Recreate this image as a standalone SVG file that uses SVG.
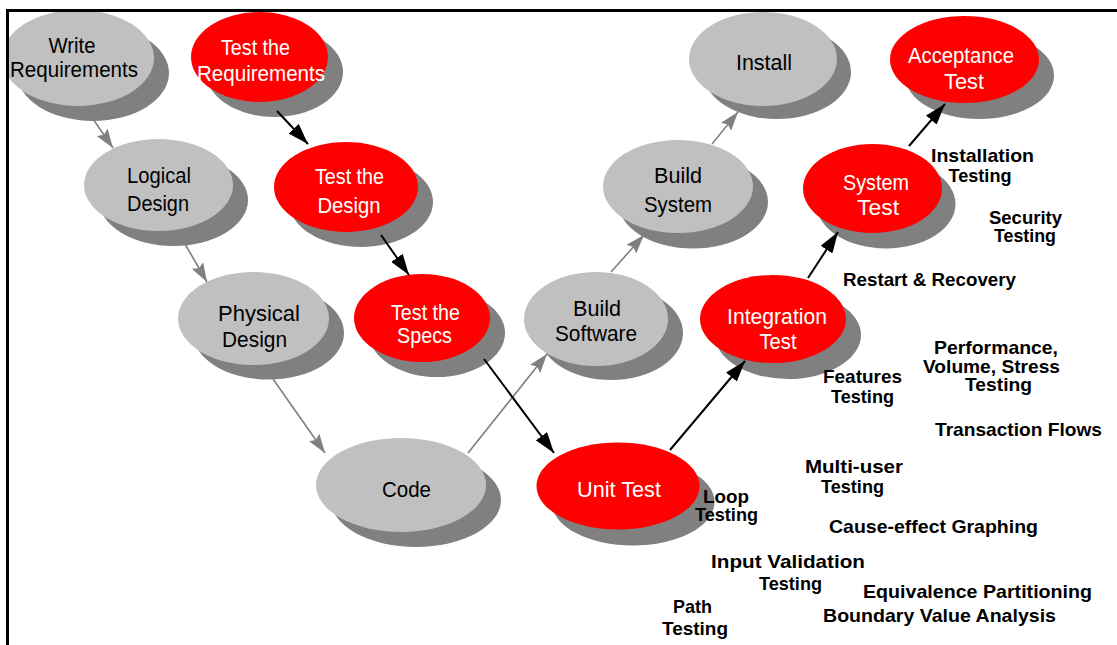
<svg xmlns="http://www.w3.org/2000/svg" width="1117" height="645" viewBox="0 0 1117 645">
  <style>
    .shadow { fill: #808080; }
    .gray { fill: #c0c0c0; }
    .red { fill: #ff0000; }
    .lbl { font-family: "Liberation Sans", Arial, sans-serif; font-size: 22px; text-anchor: middle; }
    .dark { fill: #000000; }
    .light { fill: #ffffff; }
    .note { font-family: "Liberation Sans", Arial, sans-serif; font-size: 18.5px; font-weight: bold; text-anchor: middle; fill: #000000; }
    .link-gray { stroke: #808080; stroke-width: 1.6; fill: none; marker-end: url(#head-gray); }
    .link-black { stroke: #000000; stroke-width: 2; fill: none; marker-end: url(#head-black); }
  </style>
  <defs>
    <clipPath id="frame-inside">
      <rect x="9" y="12" width="1108" height="633"/>
    </clipPath>
    <marker id="head-black" markerUnits="userSpaceOnUse" markerWidth="22" markerHeight="14" refX="21" refY="7" orient="auto">
      <path d="M0,0 L21,7 L0,14 z" fill="#000000"/>
    </marker>
    <marker id="head-gray" markerUnits="userSpaceOnUse" markerWidth="20" markerHeight="13" refX="19" refY="6.5" orient="auto">
      <path d="M0,0 L19,6.5 L0,13 L3,6.5 z" fill="#808080"/>
    </marker>
  </defs>

  <rect width="1117" height="645" fill="#ffffff"/>

  <g clip-path="url(#frame-inside)">
    <!-- left branch: requirements down to code -->
    <g id="write-requirements">
      <ellipse class="shadow" cx="93" cy="73" rx="76" ry="48"/>
      <ellipse class="gray" cx="78" cy="58" rx="76" ry="48"/>
      <text class="lbl dark" x="72" y="53" textLength="47" lengthAdjust="spacingAndGlyphs">Write</text>
      <text class="lbl dark" x="74" y="77" textLength="128" lengthAdjust="spacingAndGlyphs">Requirements</text>
    </g>
    <g id="logical-design">
      <ellipse class="shadow" cx="173.5" cy="200" rx="74.5" ry="46"/>
      <ellipse class="gray" cx="158.5" cy="185" rx="74.5" ry="46"/>
      <text class="lbl dark" x="159" y="183" textLength="64" lengthAdjust="spacingAndGlyphs">Logical</text>
      <text class="lbl dark" x="158" y="211" textLength="62" lengthAdjust="spacingAndGlyphs">Design</text>
    </g>
    <g id="physical-design">
      <ellipse class="shadow" cx="268.5" cy="333" rx="75.5" ry="46.5"/>
      <ellipse class="gray" cx="253.5" cy="318.5" rx="75.5" ry="46.5"/>
      <text class="lbl dark" x="259" y="321" textLength="82" lengthAdjust="spacingAndGlyphs">Physical</text>
      <text class="lbl dark" x="254.5" y="347" textLength="65" lengthAdjust="spacingAndGlyphs">Design</text>
    </g>
    <g id="code">
      <ellipse class="shadow" cx="416" cy="500" rx="85" ry="47"/>
      <ellipse class="gray" cx="401" cy="485" rx="85" ry="47"/>
      <text class="lbl dark" x="406.5" y="497" textLength="49" lengthAdjust="spacingAndGlyphs">Code</text>
    </g>

    <!-- test planning column -->
    <g id="test-requirements">
      <ellipse class="shadow" cx="274.5" cy="72" rx="68.5" ry="45"/>
      <ellipse class="red" cx="259.5" cy="57" rx="68.5" ry="45"/>
      <text class="lbl light" x="255.5" y="55" textLength="69" lengthAdjust="spacingAndGlyphs">Test the</text>
      <text class="lbl light" x="261" y="81" textLength="128" lengthAdjust="spacingAndGlyphs">Requirements</text>
    </g>
    <g id="test-design">
      <ellipse class="shadow" cx="361" cy="202" rx="72" ry="45"/>
      <ellipse class="red" cx="346" cy="187" rx="72" ry="45"/>
      <text class="lbl light" x="349.5" y="184" textLength="69" lengthAdjust="spacingAndGlyphs">Test the</text>
      <text class="lbl light" x="349" y="213" textLength="63" lengthAdjust="spacingAndGlyphs">Design</text>
    </g>
    <g id="test-specs">
      <ellipse class="shadow" cx="437" cy="333" rx="68" ry="44"/>
      <ellipse class="red" cx="422" cy="318" rx="68" ry="44"/>
      <text class="lbl light" x="425.5" y="320" textLength="69" lengthAdjust="spacingAndGlyphs">Test the</text>
      <text class="lbl light" x="424.5" y="343" textLength="55" lengthAdjust="spacingAndGlyphs">Specs</text>
    </g>

    <!-- right branch: build up to install -->
    <g id="build-software">
      <ellipse class="shadow" cx="611" cy="333" rx="72" ry="47"/>
      <ellipse class="gray" cx="596" cy="319" rx="72" ry="47"/>
      <text class="lbl dark" x="597" y="316" textLength="48" lengthAdjust="spacingAndGlyphs">Build</text>
      <text class="lbl dark" x="596" y="341" textLength="82" lengthAdjust="spacingAndGlyphs">Software</text>
    </g>
    <g id="build-system">
      <ellipse class="shadow" cx="693" cy="202" rx="75" ry="46.5"/>
      <ellipse class="gray" cx="678" cy="186.5" rx="75" ry="46.5"/>
      <text class="lbl dark" x="678" y="183" textLength="48" lengthAdjust="spacingAndGlyphs">Build</text>
      <text class="lbl dark" x="678" y="212" textLength="68" lengthAdjust="spacingAndGlyphs">System</text>
    </g>
    <g id="install">
      <ellipse class="shadow" cx="777" cy="72" rx="74" ry="47"/>
      <ellipse class="gray" cx="763" cy="59" rx="74" ry="47"/>
      <text class="lbl dark" x="764" y="70" textLength="56" lengthAdjust="spacingAndGlyphs">Install</text>
    </g>

    <!-- test execution column -->
    <g id="unit-test">
      <ellipse class="shadow" cx="633" cy="502" rx="81.5" ry="43.5"/>
      <ellipse class="red" cx="618" cy="486" rx="81.5" ry="43.5"/>
      <text class="lbl light" x="619" y="497" textLength="84" lengthAdjust="spacingAndGlyphs">Unit Test</text>
    </g>
    <g id="integration-test">
      <ellipse class="shadow" cx="788" cy="335" rx="73" ry="44"/>
      <ellipse class="red" cx="773" cy="319" rx="73" ry="44"/>
      <text class="lbl light" x="777" y="324" textLength="100" lengthAdjust="spacingAndGlyphs">Integration</text>
      <text class="lbl light" x="778" y="349" textLength="37" lengthAdjust="spacingAndGlyphs">Test</text>
    </g>
    <g id="system-test">
      <ellipse class="shadow" cx="886" cy="204" rx="69.5" ry="44.5"/>
      <ellipse class="red" cx="872.5" cy="188.5" rx="69.5" ry="44.5"/>
      <text class="lbl light" x="876" y="190" textLength="66" lengthAdjust="spacingAndGlyphs">System</text>
      <text class="lbl light" x="878" y="215" textLength="42" lengthAdjust="spacingAndGlyphs">Test</text>
    </g>
    <g id="acceptance-test">
      <ellipse class="shadow" cx="979.5" cy="75.5" rx="74.5" ry="43.5"/>
      <ellipse class="red" cx="964.5" cy="59.5" rx="74.5" ry="43.5"/>
      <text class="lbl light" x="961" y="63" textLength="106" lengthAdjust="spacingAndGlyphs">Acceptance</text>
      <text class="lbl light" x="964" y="89" textLength="40" lengthAdjust="spacingAndGlyphs">Test</text>
    </g>
  </g>

  <g id="connectors">
    <line class="link-gray" x1="93" y1="119" x2="113" y2="148"/>
    <line class="link-gray" x1="181" y1="237" x2="207" y2="282"/>
    <line class="link-gray" x1="273" y1="379" x2="325" y2="453"/>
    <line class="link-gray" x1="468" y1="453" x2="547" y2="354"/>
    <line class="link-gray" x1="611" y1="272" x2="644" y2="235"/>
    <line class="link-gray" x1="712" y1="144" x2="738" y2="112"/>

    <line class="link-black" x1="277" y1="111" x2="308" y2="144"/>
    <line class="link-black" x1="381" y1="235" x2="409" y2="275"/>
    <line class="link-black" x1="484" y1="359" x2="554" y2="453"/>
    <line class="link-black" x1="670" y1="450" x2="745" y2="361"/>
    <line class="link-black" x1="808" y1="278" x2="838" y2="232"/>
    <line class="link-black" x1="909" y1="146" x2="945" y2="104"/>
  </g>

  <g id="test-techniques">
    <text class="note" x="982.5" y="162" textLength="103" lengthAdjust="spacingAndGlyphs">Installation</text>
    <text class="note" x="980" y="182" textLength="63" lengthAdjust="spacingAndGlyphs">Testing</text>
    <text class="note" x="1025.5" y="224" textLength="73" lengthAdjust="spacingAndGlyphs">Security</text>
    <text class="note" x="1025" y="242" textLength="62" lengthAdjust="spacingAndGlyphs">Testing</text>
    <text class="note" x="929.5" y="286" textLength="173" lengthAdjust="spacingAndGlyphs">Restart &amp; Recovery</text>
    <text class="note" x="996" y="354" textLength="124" lengthAdjust="spacingAndGlyphs">Performance,</text>
    <text class="note" x="991.5" y="373" textLength="137" lengthAdjust="spacingAndGlyphs">Volume, Stress</text>
    <text class="note" x="998.5" y="391" textLength="67" lengthAdjust="spacingAndGlyphs">Testing</text>
    <text class="note" x="862.5" y="383" textLength="79" lengthAdjust="spacingAndGlyphs">Features</text>
    <text class="note" x="862.5" y="403" textLength="63" lengthAdjust="spacingAndGlyphs">Testing</text>
    <text class="note" x="1018.5" y="436" textLength="167" lengthAdjust="spacingAndGlyphs">Transaction Flows</text>
    <text class="note" x="854" y="473" textLength="98" lengthAdjust="spacingAndGlyphs">Multi-user</text>
    <text class="note" x="852.5" y="493" textLength="63" lengthAdjust="spacingAndGlyphs">Testing</text>
    <text class="note" x="726" y="503" textLength="46" lengthAdjust="spacingAndGlyphs">Loop</text>
    <text class="note" x="726.5" y="521" textLength="63" lengthAdjust="spacingAndGlyphs">Testing</text>
    <text class="note" x="933.5" y="533" textLength="209" lengthAdjust="spacingAndGlyphs">Cause-effect Graphing</text>
    <text class="note" x="788" y="568" textLength="154" lengthAdjust="spacingAndGlyphs">Input Validation</text>
    <text class="note" x="790.5" y="590" textLength="63" lengthAdjust="spacingAndGlyphs">Testing</text>
    <text class="note" x="977.5" y="598" textLength="229" lengthAdjust="spacingAndGlyphs">Equivalence Partitioning</text>
    <text class="note" x="939.5" y="622" textLength="233" lengthAdjust="spacingAndGlyphs">Boundary Value Analysis</text>
    <text class="note" x="692.5" y="613" textLength="39" lengthAdjust="spacingAndGlyphs">Path</text>
    <text class="note" x="695" y="635" textLength="66" lengthAdjust="spacingAndGlyphs">Testing</text>
  </g>

  <path id="frame" d="M7.5,645 V10.5 H1117" fill="none" stroke="#000000" stroke-width="3"/>
</svg>
